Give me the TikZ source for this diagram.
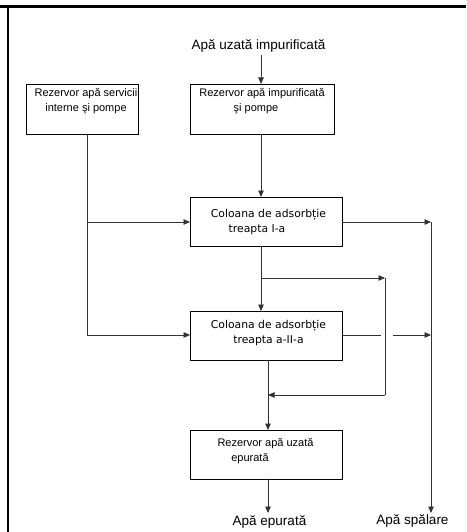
\documentclass[tikz,border=0pt]{standalone}
\usepackage{fontspec}
\setmainfont{Liberation Sans}
\newfontfamily\verd{DejaVu Sans}
\usetikzlibrary{arrows.meta}
\begin{document}
\begin{tikzpicture}[x=1pt,y=-1pt,
  box/.style={draw=black, line width=0.8pt, minimum width=#1, minimum height=49pt, inner sep=0pt},
  atext/.style={align=center, inner sep=0pt, font=\fontsize{11}{15}\selectfont},
  vtext/.style={align=center, inner sep=0pt, font=\verd\fontsize{10.8}{15}\selectfont},
  big/.style={inner sep=0pt, font=\fontsize{13.5}{16}\selectfont},
  conn/.style={draw=black!80, line width=0.8pt},
  arr/.style={conn, -{Triangle[length=6.5pt,width=5.5pt]}},
  frame/.style={draw=black}
]
\useasboundingbox (0,0) rectangle (466,532);
% frame
\draw[frame, line width=3pt] (0,6.3) -- (466,6.3);
\draw[frame, line width=2.6pt] (7.8,5) -- (7.8,532);

% boxes
\node[box=112pt, minimum height=50pt] (A) at (82,109) {};
\node[atext] (tA) at (86,101.5) {Rezervor apă servicii\\interne şi pompe};
\node[box=144pt, minimum height=50pt] (B) at (262,109) {};
\node[atext] (tB) at (262,101.5) {Rezervor apă impurificată\\şi pompe\kern12pt};
\node[box=152pt] (C) at (266,221.5) {};
\node[vtext] (tC) at (268.5,221.7) {Coloana de adsorbție\\treapta I-a\kern23pt};
\node[box=152pt] (D) at (266,335.5) {};
\node[vtext] (tD) at (268.5,333) {Coloana de adsorbție\\treapta a-II-a};
\node[box=152pt] (E) at (266,454.5) {};
\node[atext] (tE) at (265.5,450.7) {Rezervor apă uzată\\epurată\kern31pt};

% outer texts
\node[big] (in) at (258.5,46) {Apă uzată impurificată};
\node[big] (outE) at (269.5,521.5) {Apă epurată};
\node[big] (outS) at (412.5,521) {Apă spălare};

% coordinates
\coordinate (inS) at (261,55);
\coordinate (Btop) at (261,84);
\coordinate (Bbot) at (261,134);
\coordinate (Ctop) at (261,197);
\coordinate (Abot) at (87,134);
\coordinate (Aj1) at (87,222);
\coordinate (Aj2) at (87,335);
\coordinate (Cl) at (190,222);
\coordinate (Dl) at (190,335);
\coordinate (Cr) at (342,222);
\coordinate (Sv) at (431,222);
\coordinate (Sbot) at (431,513);
\coordinate (Cbot) at (261,246);
\coordinate (Dtop) at (261,311);
\coordinate (Cj) at (261,278);
\coordinate (Rv) at (385,278);
\coordinate (Rb) at (385,395);
\coordinate (Rin) at (268,395);
\coordinate (Dr) at (342,335);
\coordinate (Dg1) at (381,335);
\coordinate (Dg2) at (393,335);
\coordinate (Ds) at (431,335);
\coordinate (Dbot) at (268,360);
\coordinate (Etop) at (268,430);
\coordinate (Ebot) at (268,479);
\coordinate (Eout) at (268,513);

% connectors
\draw[arr] (inS) -- (Btop);
\draw[arr] (Bbot) -- (Ctop);
\draw[conn] (Abot) -- (Aj2);
\draw[arr] (Aj1) -- (Cl);
\draw[arr] (Aj2) -- (Dl);
\draw[arr] (Cr) -- (Sv);
\draw[arr] (Sv) -- (Sbot);
\draw[arr] (Cbot) -- (Dtop);
\draw[arr] (Cj) -- (Rv);
\draw[conn] (Rv) -- (Rb);
\draw[arr] (Rb) -- (Rin);
\draw[conn] (Dr) -- (Dg1);
\draw[arr] (Dg2) -- (Ds);
\draw[arr] (Dbot) -- (Etop);
\draw[arr] (Ebot) -- (Eout);
\end{tikzpicture}
\end{document}
